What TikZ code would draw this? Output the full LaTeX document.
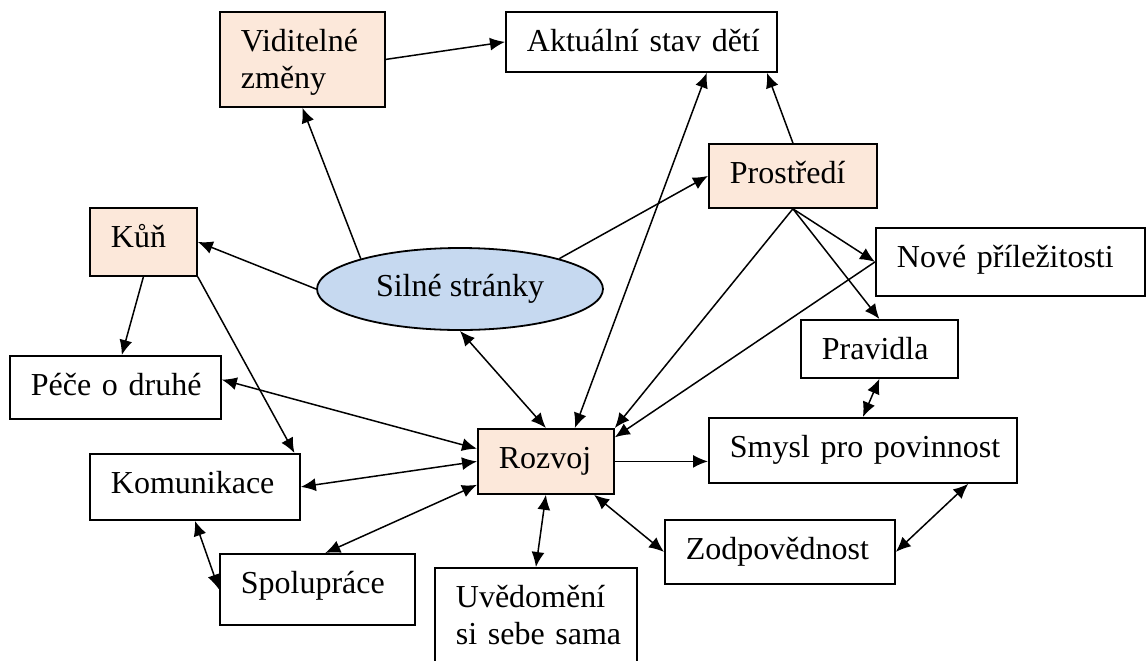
\documentclass[tikz,border=0pt]{standalone}
\usepackage{fontspec}
\setmainfont{Liberation Serif}
\usetikzlibrary{arrows.meta,calc,shapes.geometric}
\definecolor{peach}{RGB}{252,232,218}
\definecolor{ovalblue}{RGB}{198,217,240}
\begin{document}
\begin{tikzpicture}[
  x=0.5pt, y=-0.5pt,
  font=\fontsize{16}{18.5}\selectfont,
  box/.style={draw,line width=0.9pt,anchor=north west,inner xsep=10.5pt,inner ysep=0pt,
    text height=20pt,align=left,execute at begin node={\rightskip=-8pt plus 1fil\hyphenpenalty=10000}},
  oval/.style={ellipse,draw,line width=0.9pt,fill=ovalblue,inner sep=0pt},
  arr/.style={-{Latex[length=7.5pt,width=6.5pt]},line width=0.75pt},
  dbl/.style={{Latex[length=7.5pt,width=6.5pt]}-{Latex[length=7.5pt,width=6.5pt]},line width=0.75pt},
]
  \useasboundingbox (0,0) rectangle (1146,660);
  % boxes
  \node[box,fill=peach,text width=61.5pt,text depth=27.5pt] (vid) at (219,11)  {Viditelné\\změny};
  \node[box,text width=114.5pt,text depth=10pt]             (akt) at (505,11)  {Aktuální stav dětí};
  \node[box,fill=peach,text width=63pt,text depth=12pt]     (pro) at (708,143) {Prostředí};
  \node[box,text width=113.5pt,text depth=14pt]             (nov) at (875,227) {Nové příležitosti};
  \node[box,text width=57.5pt,text depth=9pt]               (pra) at (800,319) {Pravidla};
  \node[box,text width=133pt,text depth=12.5pt]             (smy) at (708,417) {Smysl pro povinnost};
  \node[box,text width=94pt,text depth=12pt]                (zod) at (664,519) {Zodpovědnost};
  \node[box,text width=80pt,text depth=40pt]                (uve) at (434,567) {Uvědomění\\si sebe sama};
  \node[box,fill=peach,text width=47pt,text depth=12.5pt]   (roz) at (477,428) {Rozvoj};
  \node[box,text width=76.5pt,text depth=15.5pt]            (spo) at (219,553) {Spolupráce};
  \node[box,text width=84pt,text depth=13pt]                (kom) at (89,453)  {Komunikace};
  \node[box,text width=84.5pt,text depth=11.5pt]            (pec) at (9,355)   {Péče o druhé};
  \node[box,fill=peach,text width=32.5pt,text depth=14pt]   (kun) at (89,207)  {Kůň};
  \node[oval,minimum width=143pt,minimum height=41pt]       (sil) at (460,289) {Silné stránky};
  % connectors
  \draw[arr] (vid.east) -- (akt.west);
  \draw[arr] (sil.163) -- (vid.south);
  \draw[arr] (sil.west) -- (kun.east);
  \draw[arr] (sil.17) -- (pro.west);
  \draw[dbl] (sil.south) -- (roz.north);
  \draw[dbl] ($(akt.south west)!0.74!(akt.south east)$) -- ($(roz.north west)!0.71!(roz.north east)$);
  \draw[arr] (pro.north) -- ($(akt.south west)!0.96!(akt.south east)$);
  \draw[arr] (pro.south) -- (roz.north east);
  \draw[arr] (pro.south) -- (nov.west);
  \draw[arr] (pro.south) -- (pra.north);
  \draw[arr] (nov.west) -- ($(roz.north east)!0.14!(roz.south east)$);
  \draw[dbl] ($(pec.north east)!0.38!(pec.south east)$) -- ($(roz.north west)!0.31!(roz.south west)$);
  \draw[dbl] (kom.east) -- (roz.west);
  \draw[dbl] ($(spo.north west)!0.54!(spo.north east)$) -- ($(roz.north west)!0.85!(roz.south west)$);
  \draw[dbl] (kom.south) -- (spo.west);
  \draw[arr] (kun.south) -- ($(pec.north west)!0.53!(pec.north east)$);
  \draw[arr] (kun.south east) -- ($(kom.north west)!0.97!(kom.north east)$);
  \draw[dbl] (roz.south) -- (uve.north);
  \draw[dbl] ($(roz.south west)!0.85!(roz.south east)$) -- (zod.west);
  \draw[arr] (roz.east) -- (roz.east -| smy.west);
  \draw[dbl] (pra.south) -- (smy.north);
  \draw[dbl] ($(smy.south west)!0.84!(smy.south east)$) -- (zod.east);
\end{tikzpicture}
\end{document}
